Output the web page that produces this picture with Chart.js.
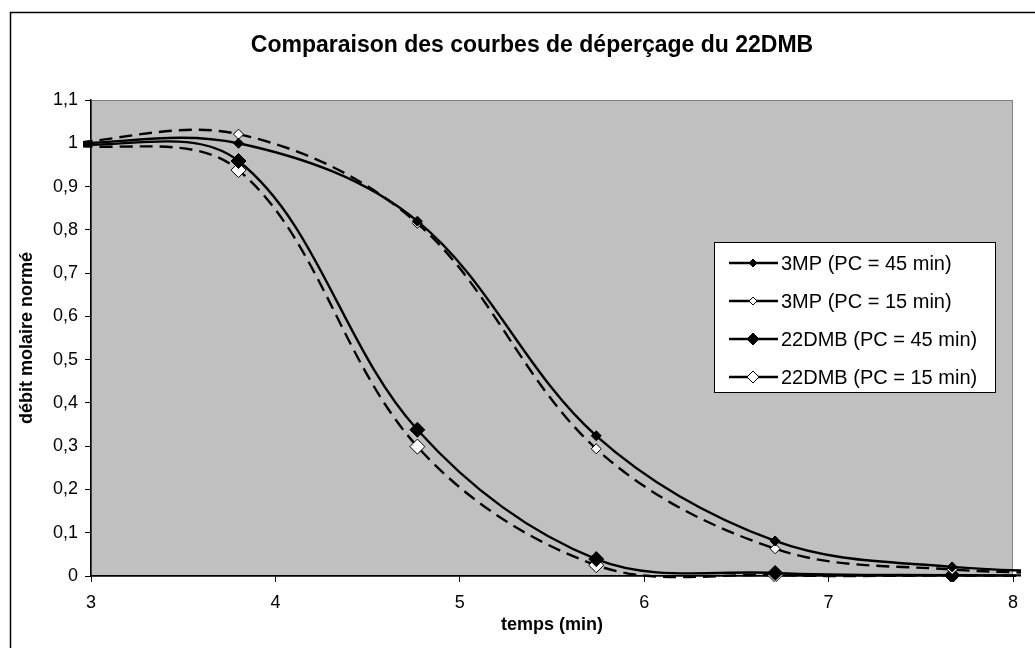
<!DOCTYPE html>
<html lang="fr">
<head>
<meta charset="utf-8">
<title>Comparaison des courbes de déperçage du 22DMB</title>
<script src="https://cdn.jsdelivr.net/npm/chart.js@4.4.1/dist/chart.umd.min.js"></script>
<style>
  html, body { margin: 0; padding: 0; background: #fff; }
  #wrap { width: 1035px; height: 648px; }
</style>
</head>
<body>
<div id="wrap"><canvas id="chart"></canvas></div>
<script>
// temps (min) des points mesurés, le premier et le dernier sont hors des axes
const temps = [2.83, 3.80, 4.77, 5.74, 6.71, 7.67, 8.64];

// débit molaire normé
const mp3_45 = [0.998, 1.000, 0.820, 0.324, 0.081, 0.021, 0.008];
const mp3_15 = [0.998, 1.021, 0.815, 0.294, 0.063, 0.015, 0.005];
const dmb_45 = [0.998, 0.959, 0.338, 0.039, 0.007, 0.002, 0.001];
const dmb_15 = [0.998, 0.938, 0.299, 0.025, 0.002, 0.001, 0.000];

const seriesNames = [
    '3MP (PC = 45 min)',
    '3MP (PC = 15 min)',
    '22DMB (PC = 45 min)',
    '22DMB (PC = 15 min)'
];

const chartTitle = 'Comparaison des courbes de déperçage du 22DMB';

const FONT = '"Liberation Sans", Arial, sans-serif';
Chart.defaults.font.family = FONT;
Chart.defaults.color = '#000';

function points(values) {
    return temps.map((t, i) => ({ x: t, y: values[i] }));
}

function frenchNumber(v) {
    return String(Math.round(v * 10) / 10).replace('.', ',');
}

// same look for the curves and their legend entries
const styles = [
    { dash: [], radius: 5, fill: '#000' },
    { dash: [13, 7], radius: 5, fill: '#fff' },
    { dash: [], radius: 7.5, fill: '#000' },
    { dash: [13, 7], radius: 7.5, fill: '#fff' }
];

function makeDataset(i, values) {
    return {
        label: seriesNames[i],
        data: points(values),
        borderColor: '#000',
        borderWidth: 2.4,
        borderDash: styles[i].dash,
        pointStyle: 'rectRot',
        pointRadius: styles[i].radius,
        pointBackgroundColor: styles[i].fill,
        pointBorderColor: '#000',
        pointBorderWidth: 1,
        clip: { left: 8, top: 2, right: 8, bottom: 6 }
    };
}

function diamond(ctx, x, y, r, fill) {
    ctx.beginPath();
    ctx.moveTo(x, y - r);
    ctx.lineTo(x + r, y);
    ctx.lineTo(x, y + r);
    ctx.lineTo(x - r, y);
    ctx.closePath();
    ctx.fillStyle = fill;
    ctx.fill();
    ctx.lineWidth = 1;
    ctx.strokeStyle = '#000';
    ctx.stroke();
}

// grey plot area, outer frame and title of the Excel chart
const plotFrame = {
    id: 'plotFrame',
    beforeDraw(chart) {
        const { ctx, chartArea: a } = chart;
        ctx.save();
        ctx.fillStyle = '#c0c0c0';
        ctx.fillRect(a.left, a.top, a.right - a.left, a.bottom - a.top);
        ctx.strokeStyle = '#808080';
        ctx.lineWidth = 1;
        ctx.strokeRect(a.left + 0.5, a.top + 0.5, a.right - a.left - 1, a.bottom - a.top);
        ctx.strokeStyle = '#000';
        ctx.lineWidth = 1.5;
        ctx.beginPath();
        ctx.moveTo(10.5, chart.height + 5);
        ctx.lineTo(10.5, 12.5);
        ctx.lineTo(chart.width + 5, 12.5);
        ctx.stroke();
        ctx.fillStyle = '#000';
        ctx.font = 'bold 23px ' + FONT;
        ctx.textAlign = 'center';
        ctx.textBaseline = 'middle';
        ctx.fillText(chartTitle, 532, 46);
        ctx.restore();
    }
};

// legend box drawn inside the plot, like the original
const boxLegend = {
    id: 'boxLegend',
    afterDraw(chart) {
        const ctx = chart.ctx;
        const bx = 714, by = 242, bw = 281, bh = 150;
        ctx.save();
        ctx.fillStyle = '#fff';
        ctx.fillRect(bx, by, bw, bh);
        ctx.strokeStyle = '#000';
        ctx.lineWidth = 1;
        ctx.strokeRect(bx + 0.5, by + 0.5, bw, bh);
        ctx.font = '20px ' + FONT;
        ctx.textBaseline = 'middle';
        const rows = [263, 301, 339, 377];
        seriesNames.forEach((name, i) => {
            const y = rows[i];
            ctx.strokeStyle = '#000';
            ctx.lineWidth = 2.4;
            ctx.beginPath();
            ctx.moveTo(729, y);
            ctx.lineTo(778, y);
            ctx.stroke();
            diamond(ctx, 753, y, i < 2 ? 4 : 6, styles[i].fill);
            ctx.fillStyle = '#000';
            ctx.fillText(name, 781, y + 1);
        });
        ctx.restore();
    }
};

new Chart(document.getElementById('chart'), {
    type: 'line',
    data: {
        datasets: [
            makeDataset(0, mp3_45),
            makeDataset(1, mp3_15),
            makeDataset(2, dmb_45),
            makeDataset(3, dmb_15)
        ]
    },
    options: {
        responsive: true,
        maintainAspectRatio: false,
        animation: false,
        layout: { padding: { left: 12, right: 22, top: 100, bottom: 2 } },
        elements: { line: { tension: 0.35, capBezierPoints: false } },
        plugins: {
            legend: { display: false },
            tooltip: { enabled: false },
            title: { display: false }
        },
        scales: {
            x: {
                type: 'linear',
                min: 3,
                max: 8,
                afterFit(scale) { scale.height = 70; },
                ticks: { stepSize: 1, font: { size: 18 }, padding: 10, maxRotation: 0 },
                grid: { drawOnChartArea: false, tickLength: 6, color: '#000' },
                border: { color: '#000', width: 1.5 },
                title: {
                    display: true,
                    text: 'temps (min)',
                    font: { size: 18, weight: 'bold' },
                    padding: { top: 0, bottom: 10 }
                }
            },
            y: {
                min: 0,
                max: 1.1,
                afterFit(scale) { scale.width = 79; },
                ticks: { stepSize: 0.1, font: { size: 18 }, padding: 7, callback: frenchNumber },
                grid: { drawOnChartArea: false, tickLength: 6, color: '#000' },
                border: { color: '#000', width: 1.5 },
                title: {
                    display: true,
                    text: 'débit molaire normé',
                    font: { size: 18, weight: 'bold' },
                    padding: { top: 4, bottom: 0 }
                }
            }
        }
    },
    plugins: [plotFrame, boxLegend]
});
</script>
</body>
</html>
